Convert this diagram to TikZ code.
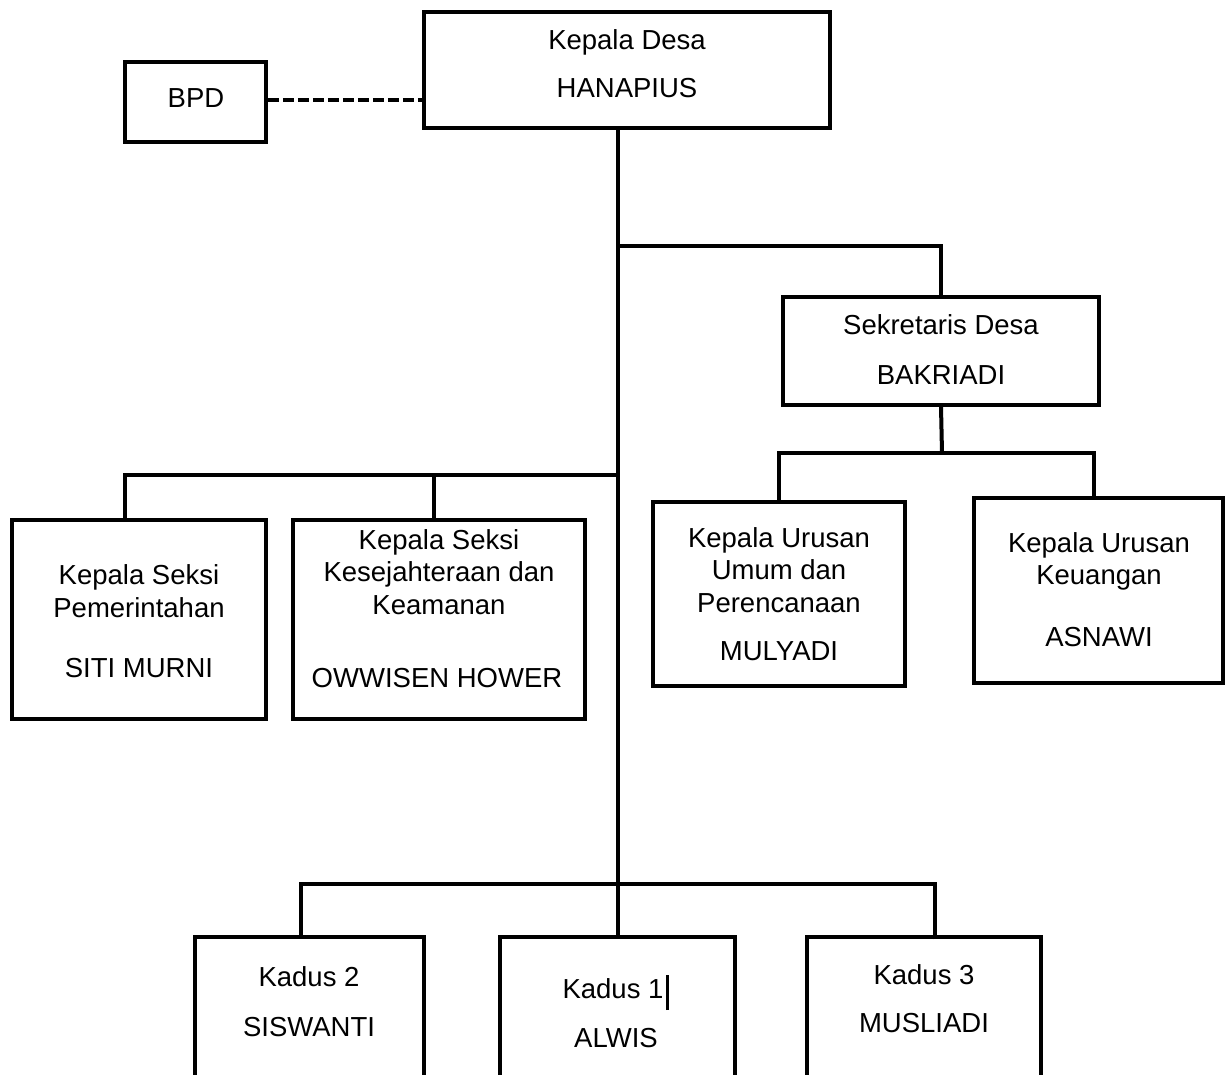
\documentclass[tikz,border=0pt]{standalone}
\usepackage{fontspec}
\setmainfont{Liberation Sans}
\begin{document}
\begin{tikzpicture}[x=1pt,y=-1pt,
  box/.style={draw, line width=3.5pt, rectangle, inner sep=0pt},
  conn/.style={line width=4pt},
  lbl/.style={font=\fontsize{27.5}{32.5}\selectfont, inner sep=0pt, align=center}]
\clip (0,0) rectangle (1225,1075);
\fill[white] (0,0) rectangle (1225,1075);
% boxes
\node[box, minimum width=406pt, minimum height=116pt] (kd) at (627,70) {};
\node[box, minimum width=141pt, minimum height=80pt] (bpd) at (195.5,102) {};
\node[box, minimum width=316pt, minimum height=108pt] (sd) at (941,351) {};
\node[box, minimum width=252pt, minimum height=184pt] (ku) at (779,594) {};
\node[box, minimum width=249pt, minimum height=185pt] (kk) at (1098.5,590.5) {};
\node[box, minimum width=254pt, minimum height=199pt] (ks1) at (139,619.5) {};
\node[box, minimum width=292pt, minimum height=199pt] (ks2) at (439,619.5) {};
\node[box, minimum width=229pt, minimum height=200pt] (k2) at (309.5,1037) {};
\node[box, minimum width=235pt, minimum height=200pt] (k1) at (617.5,1037) {};
\node[box, minimum width=234pt, minimum height=200pt] (k3) at (924,1037) {};
% texts
\node[lbl] (kdt1) at (627,42) {Kepala Desa};
\node[lbl] (kdt2) at (627,88) {HANAPIUS};
\node[lbl] (bpdt) at (196,98) {BPD};
\node[lbl] (sdt1) at (941,325) {Sekretaris Desa};
\node[lbl] (sdt2) at (941,375) {BAKRIADI};
\node[lbl] (kut1) at (779,570) {Kepala Urusan\\Umum dan\\Perencanaan};
\node[lbl] (kut2) at (779,651) {MULYADI};
\node[lbl] (kkt1) at (1099,561.5) {Kepala Urusan\\Keuangan};
\node[lbl] (kkt2) at (1099,637) {ASNAWI};
\node[lbl] (ks1t1) at (139,591) {Kepala Seksi\\Pemerintahan};
\node[lbl] (ks1t2) at (139,668) {SITI MURNI};
\node[lbl] (ks2t1) at (439,572) {Kepala Seksi\\Kesejahteraan dan\\Keamanan};
\node[lbl] (ks2t2) at (437,678) {OWWISEN HOWER};
\node[lbl] (k2t1) at (309,977) {Kadus 2};
\node[lbl] (k2t2) at (309,1027) {SISWANTI};
\node[lbl] (k1t1) at (613,989) {Kadus 1};
\node[lbl] (k1t2) at (616,1038) {ALWIS};
\node[lbl] (k3t1) at (924,975) {Kadus 3};
\node[lbl] (k3t2) at (924,1023) {MUSLIADI};
% cursor bar after Kadus 1
\draw[line width=3pt] ([xshift=4pt,yshift=-21pt]k1t1.east) -- ([xshift=4pt,yshift=14pt]k1t1.east);
% connectors
\draw[line width=3.5pt, dash pattern=on 11pt off 4pt] (bpd.east |- 0,100) -- (kd.west |- 0,100);
\coordinate (j1) at (617,246);
\coordinate (j2) at (942,453);
\coordinate (j3) at (617,475);
\coordinate (j4) at (617,884);
\draw[conn] (kd.south -| k1.north) -- (k1.north);
\draw[conn] (j1) -| (sd.north);
\draw[conn] (sd.south) -- (j2);
\draw[conn] (ku.north) |- (j2);
\draw[conn] ([xshift=-5pt]kk.north) |- (j2);
\draw[conn] ([xshift=-14pt]ks1.north) |- (j3);
\draw[conn] ([xshift=-5pt]ks2.north) -- ([xshift=-5pt]ks2.north |- j3);
\draw[conn] ([xshift=-8.5pt]k2.north) |- (j4);
\draw[conn] ([xshift=11pt,yshift=-4pt]k3.north) |- (j4);
\end{tikzpicture}
\end{document}
